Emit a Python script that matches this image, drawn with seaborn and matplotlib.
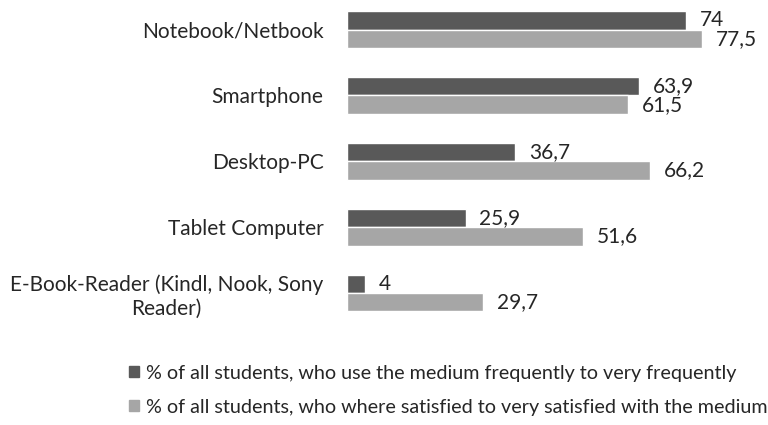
import matplotlib
matplotlib.use("Agg")
import matplotlib.pyplot as plt
from matplotlib.patches import Patch
import pandas as pd
import seaborn as sns

# Data
categories = ["Notebook/Netbook", "Smartphone", "Desktop-PC", "Tablet Computer",
              "E-Book-Reader (Kindl, Nook, Sony\nReader)"]
use_freq = [74, 63.9, 36.7, 25.9, 4]
satisfied = [77.5, 61.5, 66.2, 51.6, 29.7]
series = ["% of all students, who use the medium frequently to very frequently",
          "% of all students, who where satisfied to very satisfied with the medium"]

df = pd.DataFrame({
    "category": categories * 2,
    "series": [series[0]] * 5 + [series[1]] * 5,
    "value": use_freq + satisfied,
})

sns.set_style("white")
plt.rcParams['font.family'] = ['Lato', 'DejaVu Sans']
text_col = "#262626"
colors = ["#595959", "#a6a6a6"]
fs = 15

fig = plt.figure(figsize=(7.68, 4.25), dpi=100)
ax = fig.add_axes([347 / 768, 0.233, 1 - 347 / 768, 0.767])

sns.barplot(data=df, y="category", x="value", hue="series", orient="h",
            palette=colors, width=0.56, saturation=1, legend=False, ax=ax)

# value labels with decimal comma
for cont in ax.containers:
    labs = [f"{b.get_width():g}".replace(".", ",") for b in cont]
    ax.bar_label(cont, labels=labs, padding=10, fontsize=fs, color=text_col)

ax.set_xlim(0, 92)
ax.set_ylim(4.5, -0.45)
ax.set_xlabel("")
ax.set_ylabel("")
ax.set_xticks([])
for s in ax.spines.values():
    s.set_visible(False)
ax.tick_params(axis="y", length=0, pad=17, labelsize=fs, labelcolor=text_col)
for t in ax.get_yticklabels():
    t.set_multialignment("center")

handles = [Patch(color=c) for c in colors]
fig.legend(handles, series, loc="upper left", bbox_to_anchor=(111 / 768, 1 - 347 / 425),
           frameon=False, fontsize=14.2, labelcolor=text_col, handlelength=0.5,
           handleheight=0.5, handletextpad=0.35, labelspacing=0.85)

fig.savefig("out.png", dpi=100)
